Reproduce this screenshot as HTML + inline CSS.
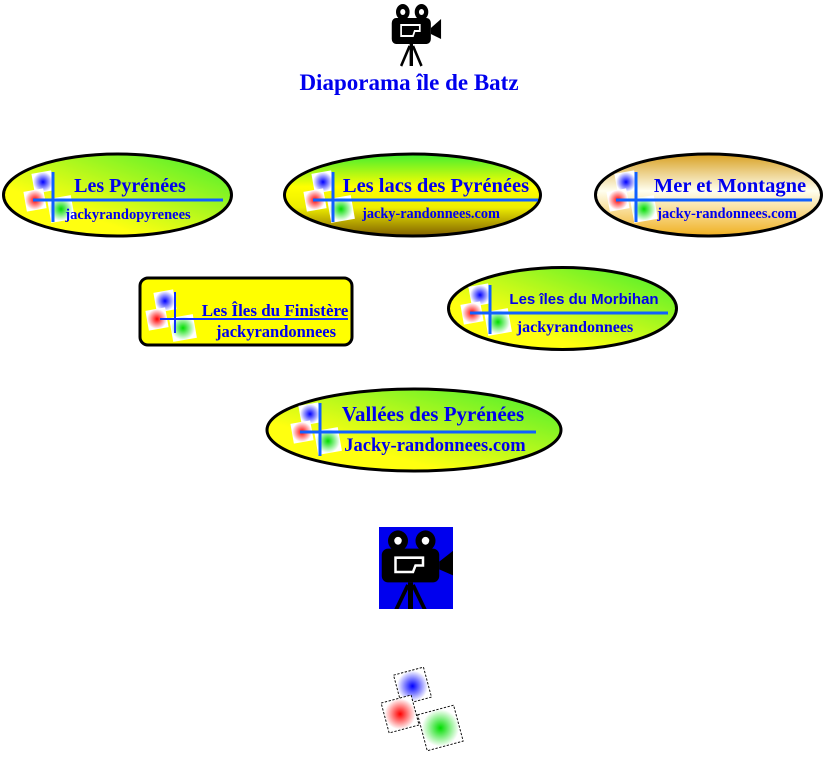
<!DOCTYPE html>
<html><head><meta charset="utf-8"><style>
html,body{margin:0;padding:0;background:#fff;width:826px;height:757px;overflow:hidden}
svg{position:absolute;left:0;top:0}
text{font-family:"Liberation Serif",serif;font-weight:bold;fill:#0000ee}
</style></head><body>
<svg width="826" height="757" viewBox="0 0 826 757">
<defs>
<radialGradient id="rb"><stop offset="0" stop-color="#0000ff"/><stop offset="1" stop-color="#fff"/></radialGradient>
<radialGradient id="rr"><stop offset="0" stop-color="#ff0000"/><stop offset="1" stop-color="#fff"/></radialGradient>
<radialGradient id="rg"><stop offset="0" stop-color="#00dd00"/><stop offset="1" stop-color="#fff"/></radialGradient>
<linearGradient id="g1" x1="0" y1="1" x2="1" y2="0"><stop offset="0.3" stop-color="#ffff10"/><stop offset="1" stop-color="#40ee30"/></linearGradient>
<linearGradient id="g2" x1="0" y1="0" x2="0" y2="1"><stop offset="0" stop-color="#40ee30"/><stop offset="0.4" stop-color="#ffff00"/><stop offset="0.65" stop-color="#eeee00"/><stop offset="1" stop-color="#806000"/></linearGradient>
<linearGradient id="g3" x1="0" y1="0" x2="0" y2="1"><stop offset="0" stop-color="#d8a020"/><stop offset="0.45" stop-color="#fffff0"/><stop offset="1" stop-color="#f0b020"/></linearGradient>
<g id="logo">
<rect x="-20" y="-28" width="20" height="20" fill="url(#rb)" transform="rotate(-10 -10 -18)"/>
<rect x="-28" y="-10" width="20" height="20" fill="url(#rr)" transform="rotate(-10 -18 0)"/>
<rect x="-4" y="-3" width="24" height="24" fill="url(#rg)" transform="rotate(-10 8 9)"/>
</g>
<g id="cam">
<circle cx="-12" cy="-14" r="8"/><circle cx="10" cy="-14" r="8"/>
<circle cx="-12" cy="-14" r="3" fill="#fff"/><circle cx="10" cy="-14" r="3" fill="#fff"/>
<rect x="-25" y="-8" width="46" height="26" rx="5"/>
<polygon points="21,2 33,-7 33,13 21,8"/>
<polygon points="-14,-1 8,-1 8,5 2,5 0,10 -14,10" fill="none" stroke="#fff" stroke-width="2"/>
<line x1="-2" y1="18" x2="-2" y2="40" stroke="#000" stroke-width="4"/>
<line x1="-4" y1="20" x2="-14" y2="40" stroke="#000" stroke-width="3"/>
<line x1="0" y1="20" x2="10" y2="40" stroke="#000" stroke-width="3"/>
</g>
</defs>

<g transform="translate(413,26) scale(0.85,1.0)"><use href="#cam"/></g>
<text x="409" y="90" text-anchor="middle" font-size="23">Diaporama île de Batz</text>

<!-- 1 -->
<ellipse cx="117.5" cy="195" rx="114" ry="41" fill="url(#g1)" stroke="#000" stroke-width="3"/>
<use href="#logo" transform="translate(53,200)"/>
<line x1="53" y1="172" x2="53" y2="222" stroke="#1060ff" stroke-width="3"/>
<line x1="33" y1="200" x2="223" y2="200" stroke="#1060ff" stroke-width="3"/>
<text x="130" y="192" text-anchor="middle" font-size="20">Les Pyrénées</text>
<text x="128" y="219" text-anchor="middle" font-size="14.5">jackyrandopyrenees</text>

<!-- 2 -->
<ellipse cx="412.5" cy="195" rx="128" ry="41" fill="url(#g2)" stroke="#000" stroke-width="3"/>
<use href="#logo" transform="translate(333,200)"/>
<line x1="333" y1="172" x2="333" y2="222" stroke="#1060ff" stroke-width="3"/>
<line x1="313" y1="200" x2="538" y2="200" stroke="#1060ff" stroke-width="3"/>
<text x="436" y="192" text-anchor="middle" font-size="20.5">Les lacs des Pyrénées</text>
<text x="431" y="218" text-anchor="middle" font-size="14.3">jacky-randonnees.com</text>

<!-- 3 -->
<ellipse cx="708.5" cy="195" rx="113" ry="41" fill="url(#g3)" stroke="#000" stroke-width="3"/>
<use href="#logo" transform="translate(636,200)"/>
<line x1="636" y1="172" x2="636" y2="222" stroke="#1060ff" stroke-width="3"/>
<line x1="616" y1="200" x2="812" y2="200" stroke="#1060ff" stroke-width="3"/>
<text x="730" y="192" text-anchor="middle" font-size="20.5">Mer et Montagne</text>
<text x="727" y="218" text-anchor="middle" font-size="14.5">jacky-randonnees.com</text>

<!-- 4 -->
<rect x="140" y="278" width="212" height="67" rx="8" fill="#ffff00" stroke="#000" stroke-width="3"/>
<use href="#logo" transform="translate(175,319)"/>
<line x1="175" y1="292" x2="175" y2="333" stroke="#1030ff" stroke-width="2"/>
<line x1="160" y1="319" x2="348" y2="319" stroke="#1030ff" stroke-width="2"/>
<text x="275" y="316" text-anchor="middle" font-size="17" font-weight="normal">Les Îles du Finistère</text>
<text x="276" y="337" text-anchor="middle" font-size="16.5">jackyrandonnees</text>

<!-- 5 -->
<ellipse cx="562.5" cy="308.5" rx="114" ry="41" fill="url(#g1)" stroke="#000" stroke-width="3"/>
<use href="#logo" transform="translate(490,313)"/>
<line x1="490" y1="285" x2="490" y2="334" stroke="#1060ff" stroke-width="3"/>
<line x1="470" y1="313" x2="668" y2="313" stroke="#1060ff" stroke-width="3"/>
<text x="584" y="304" text-anchor="middle" font-size="15" style="font-family:'Liberation Sans',sans-serif">Les îles du Morbihan</text>
<text x="575" y="332" text-anchor="middle" font-size="16">jackyrandonnees</text>

<!-- 6 -->
<ellipse cx="414" cy="430" rx="147" ry="41" fill="url(#g1)" stroke="#000" stroke-width="3"/>
<use href="#logo" transform="translate(320,432)"/>
<line x1="320" y1="403" x2="320" y2="456" stroke="#1060ff" stroke-width="3"/>
<line x1="300" y1="432" x2="536" y2="432" stroke="#1060ff" stroke-width="3"/>
<text x="433" y="421" text-anchor="middle" font-size="21">Vallées des Pyrénées</text>
<text x="435" y="451" text-anchor="middle" font-size="18.5">Jacky-randonnees.com</text>

<!-- bottom camera -->
<rect x="379" y="527" width="74" height="82" fill="#0000ee"/>
<svg x="379" y="527" width="74" height="82" viewBox="0 0 74 82">
<g transform="translate(34,32) scale(1.25,1.3)"><use href="#cam"/></g>
</svg>

<!-- bottom logo -->
<g transform="translate(428,714) scale(1.55)" stroke="#000" stroke-width="0.6" stroke-dasharray="1.5,1">
<rect x="-20" y="-28" width="20" height="20" fill="url(#rb)" transform="rotate(-15 -10 -18)"/>
<rect x="-28" y="-10" width="20" height="20" fill="url(#rr)" transform="rotate(-15 -18 0)"/>
<rect x="-4" y="-3" width="24" height="24" fill="url(#rg)" transform="rotate(-15 8 9)"/>
</g>
</svg>
</body></html>
